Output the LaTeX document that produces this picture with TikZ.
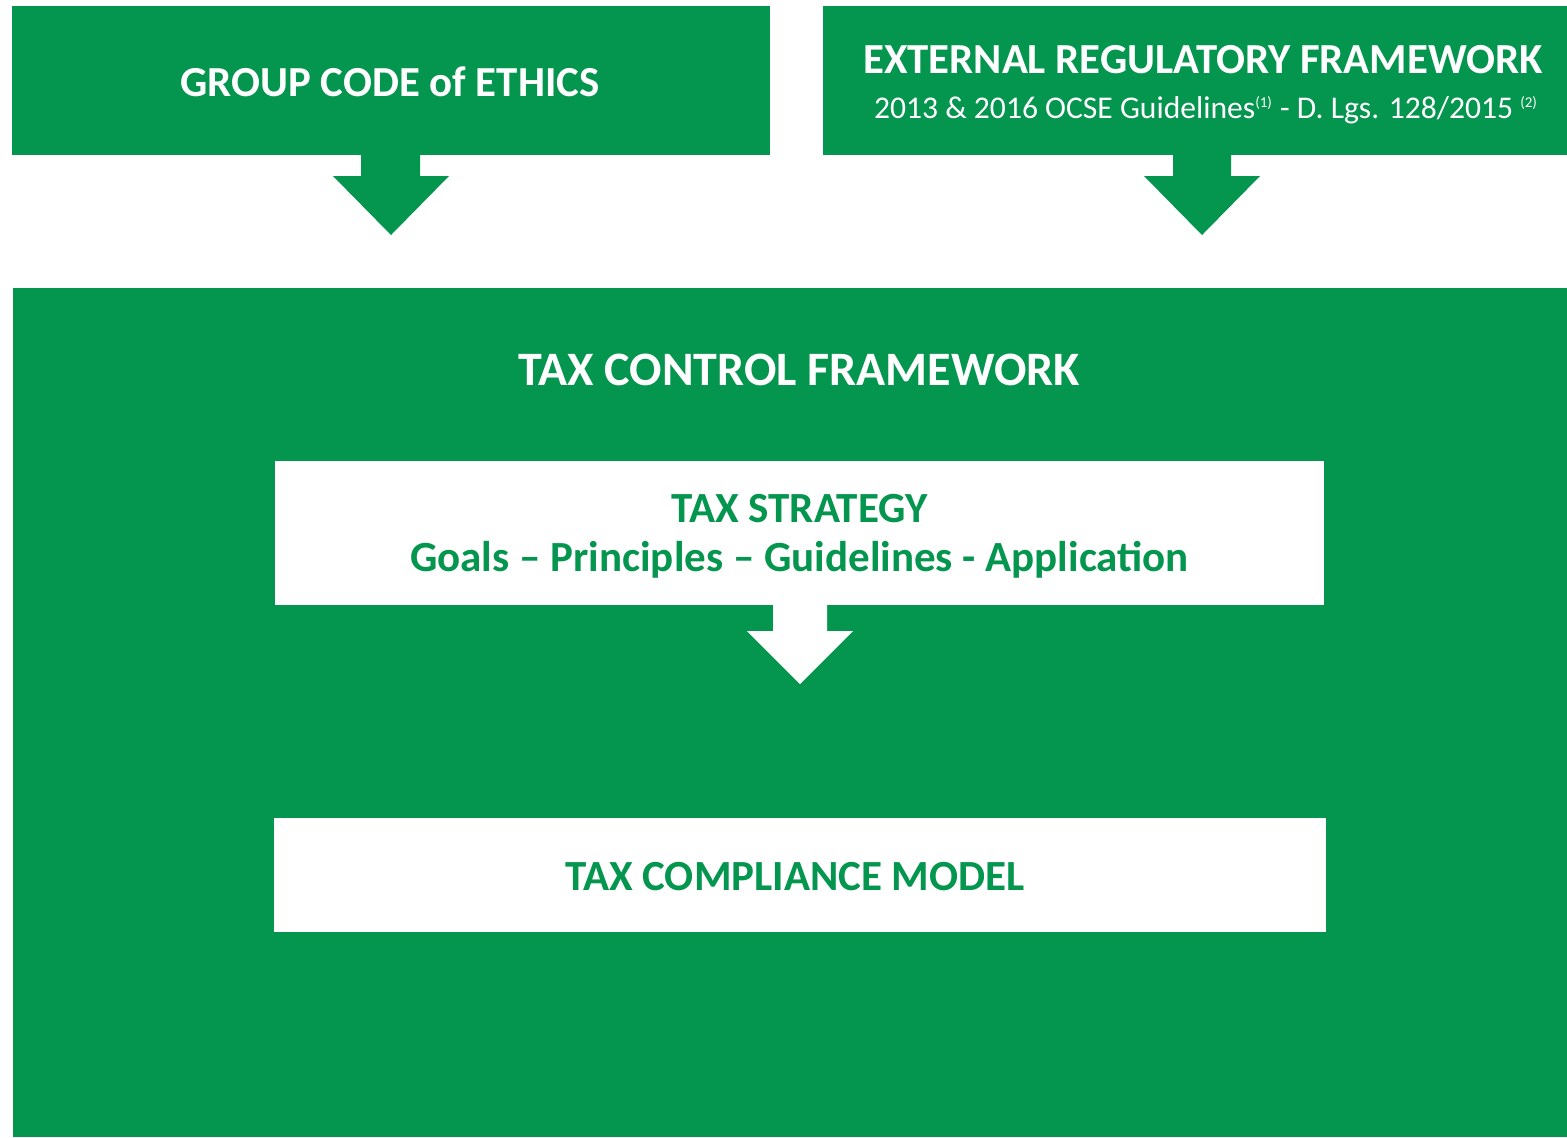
\documentclass[tikz,border=0pt]{standalone}
\usepackage{fontspec}
\setmainfont{Carlito}
\definecolor{tgreen}{RGB}{4,150,78}
\begin{document}
\begin{tikzpicture}[x=0.5pt,y=-0.5pt,
  gbox/.style={fill=tgreen,draw=none,inner sep=0pt,outer sep=0pt,rectangle},
  wbox/.style={fill=white,draw=none,inner sep=0pt,outer sep=0pt,rectangle},
  wtext/.style={text=white,font=\fontsize{21.4}{25}\selectfont\bfseries,inner sep=0pt,align=center},
  gtext/.style={text=tgreen,font=\fontsize{21.5}{25}\selectfont\bfseries,inner sep=0pt,align=center}]
\useasboundingbox[fill=white] (0,0) rectangle (1567,1137);
% top boxes
\node[gbox,minimum width=379pt,minimum height=74.5pt] (ethics) at (391,80.5) {};
\node[gbox,minimum width=372pt,minimum height=74.5pt] (ext) at (1195,80.5) {};
\node[wtext] (ethicsT) at (390,82) {GROUP CODE of ETHICS};
\node[wtext] (extT) at (1203,60) {EXTERNAL REGULATORY FRAMEWORK};
\node[text=white,font=\fontsize{15.8}{18}\selectfont,inner sep=0pt] (extS) at (1206,110)
  {2013 \& 2016 OCSE Guidelines\textsuperscript{\fontsize{7.5}{8}\selectfont(1)} - D. Lgs. 128/2015 \textsuperscript{\fontsize{7.5}{8}\selectfont(2)}};
% arrows from top boxes
\fill[tgreen] (361,150) -- (420,150) -- (420,176) -- (449,176) -- (391,235) -- (333,176) -- (361,176) -- cycle;
\fill[tgreen] (1173,150) -- (1231,150) -- (1231,176) -- (1260,176) -- (1202,235) -- (1144,176) -- (1173,176) -- cycle;
% big box
\node[gbox,minimum width=777pt,minimum height=424.5pt] (tcf) at (790,712.5) {};
\node[wtext,font=\fontsize{24}{28}\selectfont\bfseries] (tcfT) at (799,370) {TAX CONTROL FRAMEWORK};
% strategy
\node[wbox,minimum width=524.5pt,minimum height=72pt] (strat) at (799.5,533) {};
\node[gtext] (stratT1) at (799.5,509) {TAX STRATEGY};
\node[gtext] (stratT2) at (799.5,560) {Goals – Principles – Guidelines - Application};
\fill[white] (773,600) -- (827,600) -- (827,631) -- (853,631) -- (800,684) -- (747,631) -- (773,631) -- cycle;
% compliance
\node[wbox,minimum width=526pt,minimum height=57pt] (comp) at (800,875) {};
\node[gtext] (compT) at (795,877) {TAX COMPLIANCE MODEL};
\end{tikzpicture}
\end{document}
